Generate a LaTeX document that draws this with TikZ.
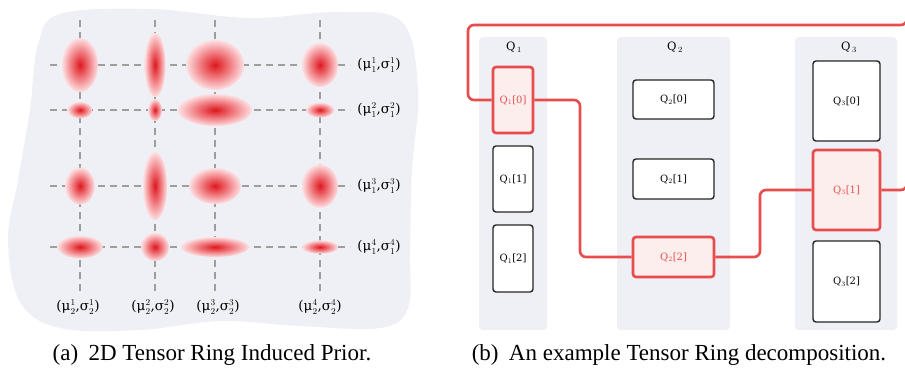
\documentclass[tikz,border=0pt]{standalone}
\usepackage{fontspec}
\setmainfont{Liberation Serif}
\newfontfamily\lblfont{DejaVu Serif}
\usetikzlibrary{calc}
\definecolor{blobbg}{RGB}{238,240,246}
\definecolor{colbg}{RGB}{238,240,245}
\definecolor{gridgray}{RGB}{158,158,158}
\definecolor{gcore}{RGB}{220,24,30}
\definecolor{gmid}{RGB}{238,110,115}
\definecolor{gedge}{RGB}{253,224,226}
\definecolor{ringred}{RGB}{232,76,76}
\definecolor{ringfill}{RGB}{253,238,238}
\pgfdeclareradialshading{gauss}{\pgfpoint{0bp}{0bp}}{color(0bp)=(gcore); color(11bp)=(gmid); color(25bp)=(gedge); color(50bp)=(gedge)}
\pgfdeclarelayer{back}
\pgfdeclarelayer{mid}
\pgfsetlayers{back,mid,main}
\newcommand\musig[2]{(μ$^{#1}_{#2}$,σ$^{#1}_{#2}$)}
\tikzset{
  gridline/.style={draw=gridgray, line width=1.3pt, dash pattern=on 7pt off 5pt},
  gblob/.style={shading=gauss},
  parlabel/.style={font=\lblfont\fontsize{13.5}{15}\selectfont, inner sep=0pt},
  colbox/.style={fill=colbg, rounded corners=4pt},
  qbox/.style={draw=black!85, fill=white, line width=1.4pt, rounded corners=3pt, inner sep=0pt, font=\lblfont\fontsize{10}{12}\selectfont},
  qred/.style={draw=ringred, fill=ringfill, line width=2.6pt, text=ringred},
  qhead/.style={font=\lblfont\fontsize{11.5}{13}\selectfont, inner sep=0pt},
  ringline/.style={draw=ringred, line width=2.6pt, rounded corners=6pt},
  caption/.style={font=\fontsize{23}{26}\selectfont, inner sep=0pt}
}
\begin{document}
\begin{tikzpicture}[x=1pt,y=-1pt]
\useasboundingbox (0,0) rectangle (905,373);
\begin{pgfonlayer}{back}
\fill[white] (0,0) rectangle (905,373);
\end{pgfonlayer}
% ---------- left panel ----------
\fill[blobbg] plot[smooth cycle, tension=0.6] coordinates {
 (60,14) (150,9) (250,18) (340,12) (402,22) (418,90) (412,170) (410,250)
 (408,308) (380,328) (300,326) (220,321) (140,330) (60,328) (20,302)
 (8,240) (18,180) (30,110) (38,45)};
\foreach \x in {80,155,215,320} \draw[gridline] (\x,20) -- (\x,292);
\foreach \y in {65,110,186,247} \draw[gridline] (50,\y) -- (350,\y);
% row 1
\shade[gblob] (80,65) ellipse [x radius=18, y radius=27];
\shade[gblob] (155,65) ellipse [x radius=10.5, y radius=32];
\shade[gblob] (215,65) ellipse [x radius=29, y radius=25];
\shade[gblob] (320,65) ellipse [x radius=18, y radius=22];
% row 2
\shade[gblob] (80,110) ellipse [x radius=12.5, y radius=8.3];
\shade[gblob] (155,110) ellipse [x radius=7, y radius=11];
\shade[gblob] (215,110) ellipse [x radius=37, y radius=16];
\shade[gblob] (320,110) ellipse [x radius=14, y radius=7.5];
% row 3
\shade[gblob] (80,186) ellipse [x radius=14.7, y radius=18.5];
\shade[gblob] (155,186) ellipse [x radius=12, y radius=34];
\shade[gblob] (215,186) ellipse [x radius=26, y radius=18];
\shade[gblob] (320,186) ellipse [x radius=18, y radius=21.7];
% row 4
\shade[gblob] (80,247) ellipse [x radius=22.7, y radius=11.3];
\shade[gblob] (155,247) ellipse [x radius=14, y radius=14];
\shade[gblob] (215,247) ellipse [x radius=34, y radius=10];
\shade[gblob] (320,247) ellipse [x radius=18, y radius=6.7];
% labels
\node[parlabel] (r1) at (379,65) {\musig{1}{1}};
\node[parlabel] (r2) at (379,110) {\musig{2}{1}};
\node[parlabel] (r3) at (379,186) {\musig{3}{1}};
\node[parlabel] (r4) at (379,247) {\musig{4}{1}};
\node[parlabel] (b1) at (78,307) {\musig{1}{2}};
\node[parlabel] (b2) at (153,307) {\musig{2}{2}};
\node[parlabel] (b3) at (218,307) {\musig{3}{2}};
\node[parlabel] (b4) at (320,307) {\musig{4}{2}};
% ---------- right panel ----------
\begin{pgfonlayer}{back}
\fill[colbox] (479,37) rectangle (547,330);
\fill[colbox] (617,37) rectangle (730,330);
\fill[colbox] (795,37) rectangle (897,330);
\end{pgfonlayer}
\node[qhead] (h1) at (514,47) {Q$_{\,1}$};
\node[qhead] (h2) at (675,47) {Q$_{\,2}$};
\node[qhead] (h3) at (849,47) {Q$_{\,3}$};
\node[qbox, qred, minimum width=40pt, minimum height=66pt] (q10) at (513,100) {Q$_1$[0]};
\node[qbox, minimum width=40pt, minimum height=66pt] (q11) at (513,179) {Q$_1$[1]};
\node[qbox, minimum width=40pt, minimum height=67pt] (q12) at (513,258.5) {Q$_1$[2]};
\node[qbox, minimum width=81pt, minimum height=39pt] (q20) at (673.5,99.5) {Q$_2$[0]};
\node[qbox, minimum width=81pt, minimum height=40pt] (q21) at (673.5,179) {Q$_2$[1]};
\node[qbox, qred, minimum width=81pt, minimum height=40pt] (q22) at (673.5,257) {Q$_2$[2]};
\node[qbox, minimum width=67pt, minimum height=80pt] (q30) at (846.5,101) {Q$_3$[0]};
\node[qbox, qred, minimum width=67pt, minimum height=80pt] (q31) at (846.5,190) {Q$_3$[1]};
\node[qbox, minimum width=67pt, minimum height=81pt] (q32) at (846.5,281.5) {Q$_3$[2]};
\coordinate (k1) at (580,180);
\coordinate (k2) at (760,220);
\coordinate (lt) at (468,25);
\coordinate (rt) at (906.8,25);
\begin{pgfonlayer}{mid}
\begin{scope}
\clip (0,0) rectangle (905,373);
\draw[ringline] (q10.west) -| (lt) -| (rt) |- (q31.east);
\draw[ringline] (q10.east) -| (k1) |- (q22.west);
\draw[ringline] (q22.east) -| (k2) |- (q31.west);
\end{scope}
\end{pgfonlayer}
% ---------- captions ----------
\node[caption] (capa) at (212,355) {(a)\hspace{0.45em}2D Tensor Ring Induced Prior.};
\node[caption] (capb) at (679,355) {(b)\hspace{0.45em}An example Tensor Ring decomposition.};
\end{tikzpicture}
\end{document}
